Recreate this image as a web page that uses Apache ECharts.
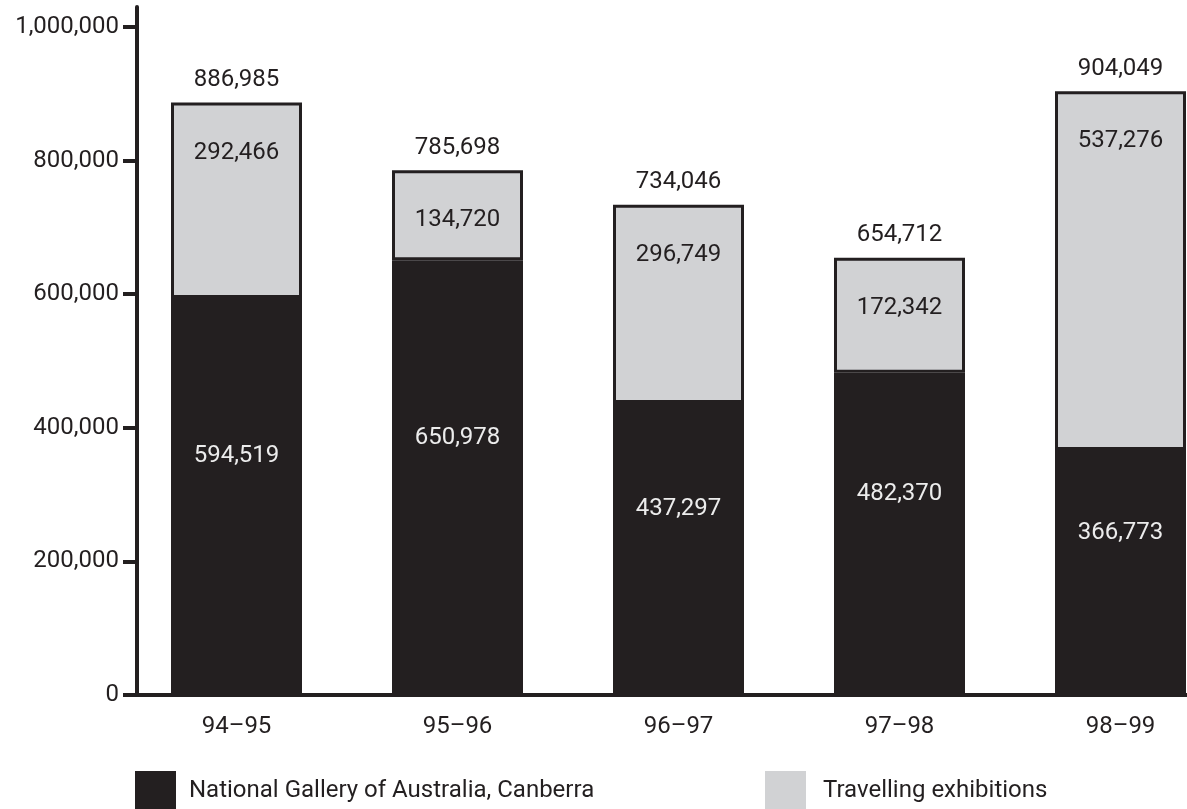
<!DOCTYPE html>
<html>
<head>
<meta charset="utf-8">
<script src="https://cdn.jsdelivr.net/npm/echarts@6/dist/echarts.min.js"></script>
<style>
html,body{margin:0;padding:0;background:#fff;}
#chart{width:1187px;height:809px;}
</style>
</head>
<body>
<div id="chart"></div>
<script>
var categories = ['94–95', '95–96', '96–97', '97–98', '98–99'];
var canberra = [594519, 650978, 437297, 482370, 366773];
var travelling = [292466, 134720, 296749, 172342, 537276];
var totals = [886985, 785698, 734046, 654712, 904049];
var yTicks = [0, 200000, 400000, 600000, 800000, 1000000];

var BLACK = '#231f20';
var GRAY = '#d1d2d4';
var TEXT = '#231f20';
var FONT = 'Roboto';
var W = 'normal';

function fmt(v) { return Number(v).toLocaleString('en-US'); }

var chart = echarts.init(document.getElementById('chart'), null, {renderer: 'canvas'});
chart.setOption({
  animation: false,
  backgroundColor: '#fff',
  textStyle: {fontFamily: FONT},
  grid: {left: 126, top: 7, width: 1105, height: 688, containLabel: false, outerBoundsMode: 'none'},
  legend: [
    {
      data: ['National Gallery of Australia, Canberra'],
      left: 135, top: 771, padding: 0,
      itemWidth: 41, itemHeight: 40,
      icon: 'rect',
      selectedMode: false,
      itemStyle: {borderWidth: 0},
      textStyle: {fontFamily: FONT, fontSize: 24, fontWeight: W, color: TEXT, padding: [0, 0, 0, 8]}
    },
    {
      data: ['Travelling exhibitions'],
      left: 765, top: 771, padding: 0,
      itemWidth: 41, itemHeight: 40,
      icon: 'rect',
      selectedMode: false,
      itemStyle: {borderWidth: 0, color: GRAY},
      textStyle: {fontFamily: FONT, fontSize: 24, fontWeight: W, color: TEXT, padding: [0, 0, 0, 12]}
    }
  ],
  xAxis: {
    type: 'category',
    data: categories,
    axisLine: {lineStyle: {color: BLACK, width: 4}},
    axisTick: {show: false},
    axisLabel: {fontFamily: FONT, fontSize: 24, fontWeight: W, color: TEXT, margin: 20}
  },
  yAxis: {
    type: 'value',
    min: 0,
    max: 1030000,
    offset: -11,
    splitLine: {show: false},
    axisLine: {show: true, lineStyle: {color: BLACK, width: 4}},
    axisTick: {show: true, length: 14, lineStyle: {color: BLACK, width: 4}, customValues: yTicks},
    axisLabel: {
      customValues: yTicks,
      fontFamily: FONT, fontSize: 24, fontWeight: W, color: TEXT, margin: 18,
      formatter: function (v) { return fmt(v); }
    }
  },
  series: [
    {
      name: 'National Gallery of Australia, Canberra',
      type: 'bar',
      stack: 'visitors',
      barWidth: 131,
      data: canberra,
      itemStyle: {color: BLACK},
      label: {
        show: true, position: 'inside', offset: [0, -40],
        fontFamily: FONT, fontSize: 24, fontWeight: W, color: '#ececec',
        formatter: function (p) { return fmt(p.value); }
      }
    },
    {
      name: 'Travelling exhibitions',
      type: 'bar',
      stack: 'visitors',
      barWidth: 131,
      data: travelling,
      itemStyle: {color: GRAY, borderColor: BLACK, borderWidth: 3},
      label: {
        show: true, position: 'insideTop', distance: 38,
        fontFamily: FONT, fontSize: 24, fontWeight: W, color: TEXT,
        formatter: function (p) { return fmt(p.value); }
      }
    },
    {
      name: 'Total',
      type: 'scatter',
      data: totals,
      symbolSize: 1,
      silent: true,
      itemStyle: {color: BLACK, opacity: 0},
      label: {
        show: true, position: 'top', distance: 10,
        fontFamily: FONT, fontSize: 24, fontWeight: W, color: TEXT, opacity: 1,
        formatter: function (p) { return fmt(p.value); }
      },
      z: 5
    }
  ]
});
</script>
</body>
</html>
